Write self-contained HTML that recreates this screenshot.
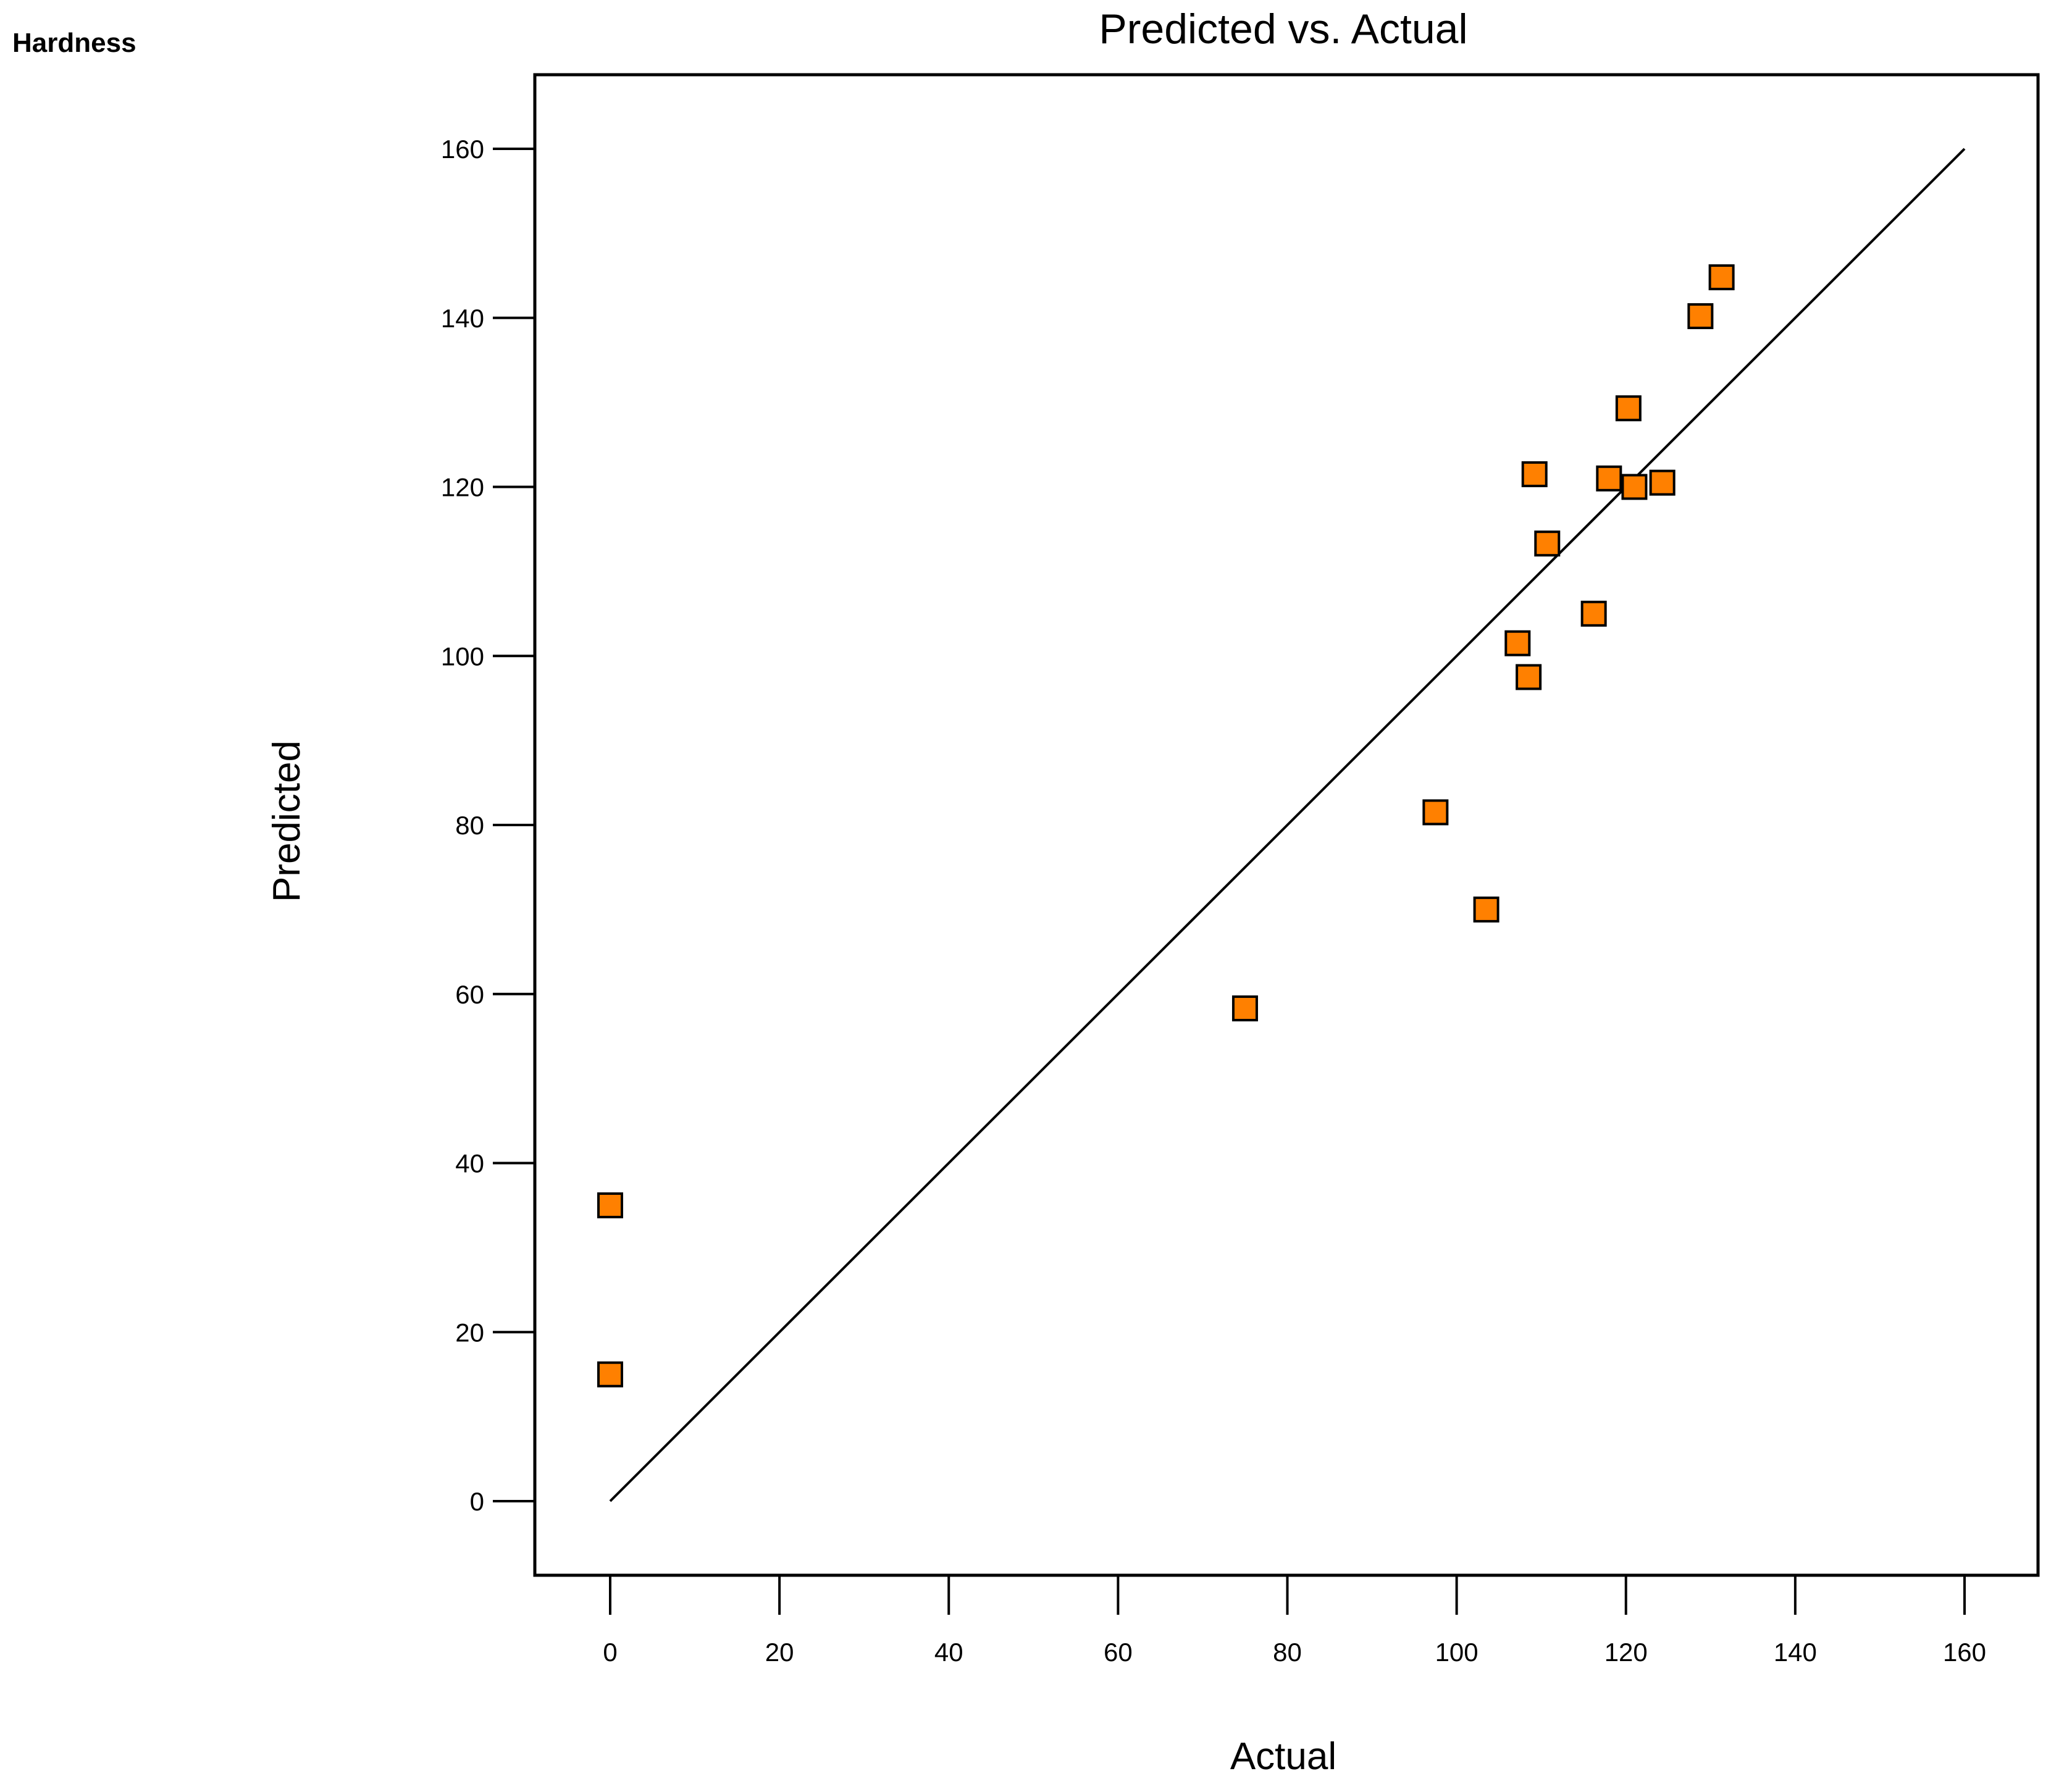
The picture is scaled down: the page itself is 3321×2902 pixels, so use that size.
<!DOCTYPE html>
<html><head><meta charset="utf-8"><style>
html,body{margin:0;padding:0;background:#fff;}
svg{display:block;font-family:"Liberation Sans","DejaVu Sans",sans-serif;}
</style></head><body>
<svg id="chart" width="3321" height="2902" viewBox="0 0 3321 2902">
<text x="20" y="84" font-size="44" font-weight="bold">Hardness</text>
<text x="2078" y="70" font-size="68" text-anchor="middle">Predicted vs. Actual</text>
<rect x="866" y="121" width="2434" height="2430" fill="none" stroke="#000" stroke-width="5"/>
<g id="axes"></g>
<g id="marks"></g>
<text x="2078" y="2865" font-size="62" text-anchor="middle">Actual</text>
<text transform="translate(485,1330) rotate(-90)" font-size="62" text-anchor="middle">Predicted</text>
</svg>
<script>
const xTicks = [0,20,40,60,80,100,120,140,160];
const yTicks = [0,20,40,60,80,100,120,140,160];
const actualValues = [0,0,75,97.5,103.5,107.2,108.5,109.2,110.7,116.2,118,121,124.3,120.3,128.8,131.3];
const predictedValues = [35,15,58.3,81.5,70,101.5,97.5,121.5,113.3,105,121,120,120.5,129.3,140.2,144.8];
const fitLine = [0,160];

const NS = "http://www.w3.org/2000/svg";
function sx(v){return 988 + (v-0)*(3181-988)/160;}
function sy(v){return 2431 - (v-0)*(2431-241)/160;}
function mk(tag, attrs){const e=document.createElementNS(NS,tag);for(const k in attrs)e.setAttribute(k,attrs[k]);return e;}
const axes=document.getElementById('axes');
const marks=document.getElementById('marks');
xTicks.forEach(t=>{
  const l=mk('line',{x1:sx(t),x2:sx(t),y1:2551,y2:2615,stroke:'#000','stroke-width':4});
  
  
  axes.appendChild(l);
  const tx=mk('text',{x:sx(t),y:2690,'font-size':42,'text-anchor':'middle'});
  tx.textContent=t;
  
  
  axes.appendChild(tx);
});
yTicks.forEach(t=>{
  const l=mk('line',{x1:798,x2:866,y1:sy(t),y2:sy(t),stroke:'#000','stroke-width':4});
  
  
  axes.appendChild(l);
  const tx=mk('text',{x:784,y:sy(t)+15,'font-size':42,'text-anchor':'end'});
  tx.textContent=t;
  
  
  axes.appendChild(tx);
});
const fl=mk('line',{x1:sx(fitLine[0]),y1:sy(fitLine[0]),x2:sx(fitLine[1]),y2:sy(fitLine[1]),stroke:'#000','stroke-width':4});


marks.appendChild(fl);
actualValues.forEach((a,i)=>{
  const p=predictedValues[i];
  const r=mk('rect',{x:sx(a)-19,y:sy(p)-19,width:38,height:38,fill:'#ff8000',stroke:'#000','stroke-width':4});
  
  
  marks.appendChild(r);
});
</script>
</body></html>
